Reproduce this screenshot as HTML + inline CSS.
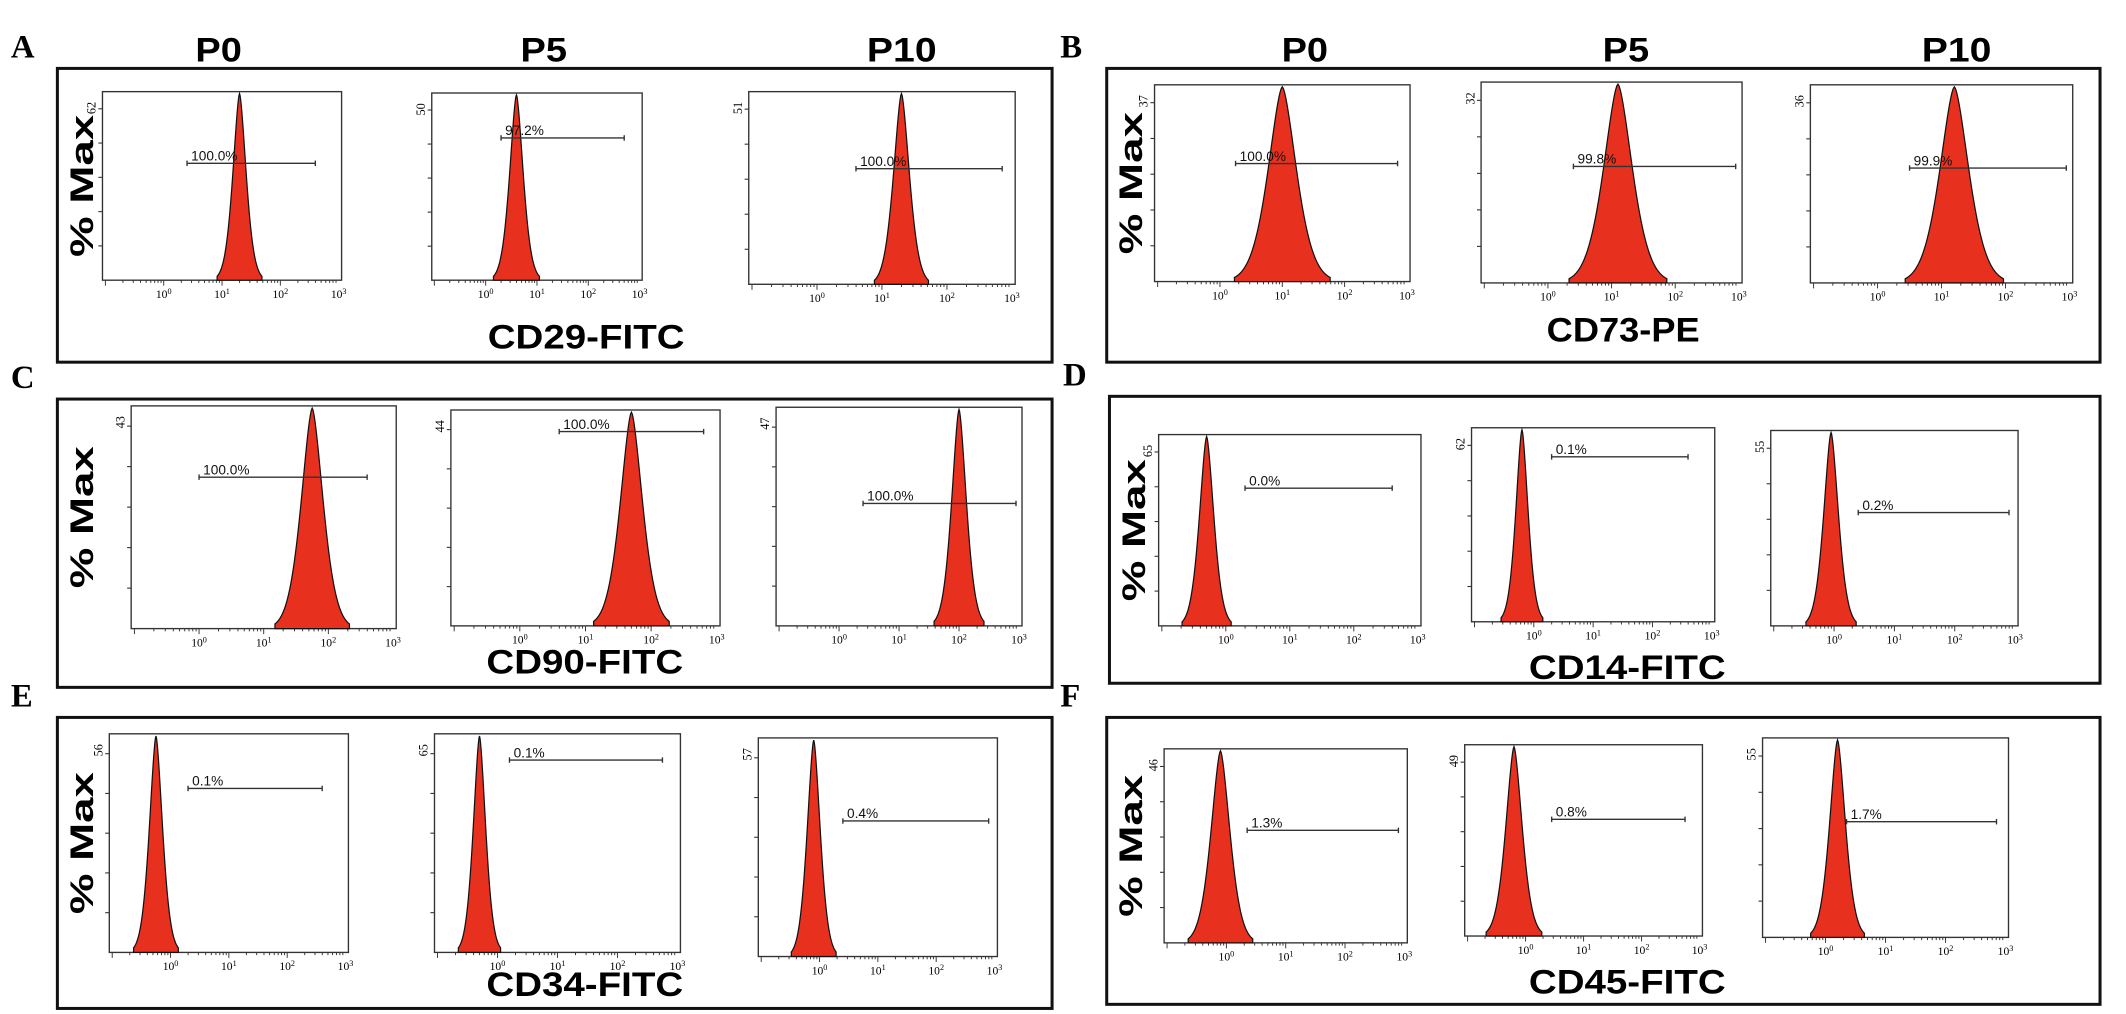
<!DOCTYPE html>
<html><head><meta charset="utf-8"><style>
html,body{margin:0;padding:0;background:#fff;}
svg{display:block;}
</style></head><body>
<svg id="fig" width="2126" height="1014" viewBox="0 0 1556 742" xmlns="http://www.w3.org/2000/svg"></svg>
<script>
// ---- data (per panel A..F, per passage P0,P5,P10) ----
const panelLetters = ["A","B","C","D","E","F"];
const markerNames = ["CD29-FITC","CD73-PE","CD90-FITC","CD14-FITC","CD34-FITC","CD45-FITC"];
const passages = ["P0","P5","P10"];
const peakCenters = [[1.3,0.6,1.3],[1.0,1.1,1.2],[1.75,1.7,2.0],[-0.3,-0.2,-0.05],[-0.25,-0.3,-0.1],[-0.1,-0.2,0.2]];
const peakWidths = [[0.12,0.14,0.13],[0.24,0.24,0.24],[0.18,0.18,0.13],[0.12,0.11,0.13],[0.12,0.11,0.12],[0.17,0.15,0.14]];
const gateStart = [[0.4,0.3,0.6],[0.25,0.4,0.5],[0.0,0.6,0.4],[0.3,0.3,0.4],[0.3,0.2,0.4],[0.35,0.45,0.35]];
const gateEnd = [[2.6,2.7,2.85],[2.85,2.95,2.95],[2.6,2.8,2.95],[2.6,2.6,2.9],[2.6,2.75,2.9],[2.9,2.75,2.85]];
const gateLevel = [[0.62,0.76,0.6],[0.6,0.58,0.58],[0.68,0.9,0.56],[0.72,0.85,0.58],[0.75,0.88,0.62],[0.58,0.61,0.58]];
const gateLabels = [["100.0%","97.2%","100.0%"],["100.0%","99.8%","99.9%"],["100.0%","100.0%","100.0%"],["0.0%","0.1%","0.2%"],["0.1%","0.1%","0.4%"],["1.3%","0.8%","1.7%"]];
const yMaxLabels = [["62","50","51"],["37","32","36"],["43","44","47"],["65","62","55"],["56","65","57"],["46","49","55"]];
const tickLabels = ["0","1","2","3"];

// ---- layout (display units) ----
const boxes = [[42,50,770,265],[810,50,1537,265],[42,292,770,503],[812,290,1537,500],[42,525,770,738],[810,525,1537,735]];
const plots = [
 [[75,67,250,205],[316,68,470,205],[548,67,743,208]],
 [[845,62,1032,206],[1084,60,1275,207],[1325,62,1517,207]],
 [[96,297,290,460],[330,300,527,458],[568,298,748,458]],
 [[848,318,1040,458],[1077,313,1255,455],[1296,315,1477,458]],
 [[80,537,255,697],[318,537,498,697],[555,540,730,700]],
 [[852,548,1030,690],[1072,545,1246,685],[1290,540,1470,686]]
];
const titleX = [429,1188,428,1191,428,1191];
const titleY = [255,250,493,497,729,727];
const headerX = [[160,398,660],[955,1190,1432]];
const domain = [-1.05,3.05];
const NS = "http://www.w3.org/2000/svg";
const svg = document.getElementById("fig");
function mk(tag, attrs, parent){const e=document.createElementNS(NS,tag);for(const k in attrs)e.setAttribute(k,attrs[k]);(parent||svg).appendChild(e);return e;}

["A","B"].forEach((_,ci)=>{
  passages.forEach((p,j)=>{
    const t=mk("text",{x:headerX[ci][j],y:45,"text-anchor":"middle","font-family":"Liberation Sans, sans-serif","font-weight":"bold","font-size":25,textLength:p.length*17,lengthAdjust:"spacingAndGlyphs"});
    t.textContent=p;
    
    
  });
});

panelLetters.forEach((L,i)=>{
  const b=boxes[i];
  const g=mk("g",{});
  
  
  const lt=mk("text",{x:b[0]-34,y:b[1]-8,"font-family":"Liberation Serif, serif","font-weight":"bold","font-size":24},g);
  lt.textContent=L;
  
  
  const r=mk("rect",{x:b[0],y:b[1],width:b[2]-b[0],height:b[3]-b[1],fill:"none",stroke:"#111","stroke-width":2.2},g);
  
  
  const cy=(plots[i][0][1]+plots[i][0][3])/2;
  const ym=mk("text",{x:0,y:0,transform:`translate(${b[0]+26},${cy}) rotate(-90)`,"text-anchor":"middle","font-family":"Liberation Sans, sans-serif","font-weight":"bold","font-size":24,textLength:104,lengthAdjust:"spacingAndGlyphs"},g);
  ym.textContent="% Max";
  
  
  const xt=mk("text",{x:titleX[i],y:titleY[i],"text-anchor":"middle","font-family":"Liberation Sans, sans-serif","font-weight":"bold","font-size":25,textLength:markerNames[i].length*16,lengthAdjust:"spacingAndGlyphs"},g);
  xt.textContent=markerNames[i];
  
  

  plots[i].forEach((pl,j)=>{
    const [x0,y0,x1,y1]=pl;
    const sx=v=>x0+(v-domain[0])/(domain[1]-domain[0])*(x1-x0);
    const sy=f=>y1-f*(y1-y0);
    const pg=mk("g",{},g);
    
    
    const fr=mk("rect",{x:x0,y:y0,width:x1-x0,height:y1-y0,fill:"#fff",stroke:"#333","stroke-width":1},pg);
    
    
    for(let k=1;k<=5;k++){
      const yy=sy(k/5.5);
      mk("line",{x1:x0-3,x2:x0,y1:yy,y2:yy,stroke:"#333","stroke-width":0.8},pg);
    }
    const yl=mk("text",{x:0,y:0,transform:`translate(${x0-5},${y0+12}) rotate(-90)`,"text-anchor":"middle","font-family":"Liberation Serif, serif","font-size":9},pg);
    yl.textContent=yMaxLabels[i][j];
    
    
    for(let d=-1;d<=2;d++){
      for(let m=1;m<=9;m++){
        const v=d+Math.log10(m);
        if(v<domain[0]||v>domain[1])continue;
        const len=m===1?4:2;
        mk("line",{x1:sx(v),x2:sx(v),y1:y1,y2:y1+len,stroke:"#333","stroke-width":0.7},pg);
      }
    }
    tickLabels.forEach(tl=>{
      const v=+tl;
      const t=mk("text",{x:sx(v),y:y1+13,"text-anchor":"middle","font-family":"Liberation Serif, serif","font-size":8.5},pg);
      t.textContent="10";
      const s=mk("tspan",{dy:-3,"font-size":6},t);s.textContent=tl;
      
      
    });
    const c=peakCenters[i][j], w=peakWidths[i][j];
    let d=`M${sx(c-3.2*w)},${y1}`;
    for(let k=0;k<=80;k++){
      const v=c-3.2*w+k*(6.4*w/80);
      const z=Math.abs((v-c)/w);
      const f=Math.exp(-0.6*Math.pow(z,1.6));
      d+=` L${sx(v).toFixed(2)},${sy(f*0.99).toFixed(2)}`;
    }
    d+=` L${sx(c+3.2*w)},${y1} Z`;
    const hp=mk("path",{d:d,fill:"#e8301f",stroke:"#111","stroke-width":0.9},pg);
    
    
    const gy=sy(gateLevel[i][j]);
    const gx0=sx(gateStart[i][j]), gx1=sx(gateEnd[i][j]);
    const gl=mk("line",{x1:gx0,x2:gx1,y1:gy,y2:gy,stroke:"#333","stroke-width":1},pg);
    
    
    mk("line",{x1:gx0,x2:gx0,y1:gy-2,y2:gy+2,stroke:"#333","stroke-width":1},pg);
    mk("line",{x1:gx1,x2:gx1,y1:gy-2,y2:gy+2,stroke:"#333","stroke-width":1},pg);
    const gt=mk("text",{x:gx0+3,y:gy-2,"font-family":"Liberation Sans, sans-serif","font-size":10,fill:"#111"},pg);
    gt.textContent=gateLabels[i][j];
    
    
  });
});
</script>
</body></html>
